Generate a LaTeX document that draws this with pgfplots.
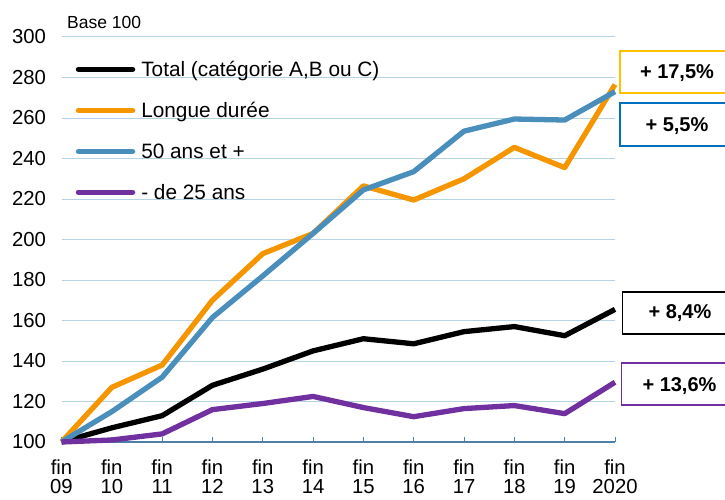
\documentclass[border=0pt]{standalone}
\usepackage{pgfplots}
\pgfplotsset{compat=1.18}
\usepackage{fontspec}
\setmainfont{Liberation Sans}
\definecolor{cOrange}{HTML}{F59600}
\definecolor{cBlue}{HTML}{4A8EBC}
\definecolor{cPurple}{HTML}{7030A0}
\definecolor{cGrid}{HTML}{B4D4E6}
\definecolor{cAxis}{HTML}{4E7FA8}
\definecolor{cYellow}{HTML}{FFC000}
\definecolor{cBoxBlue}{HTML}{0070C0}
\begin{document}
\begin{tikzpicture}[x=1pt,y=1pt]
\useasboundingbox (0pt,0pt) rectangle (725pt,499pt);
\begin{axis}[
  at={(61.5pt,57pt)}, anchor=south west, scale only axis,
  width=553.5pt, height=405pt,
  xmin=0, xmax=11, ymin=100, ymax=300,
  ytick={100,120,...,300},
  xtick={0,...,11},
  xticklabels={{fin\\[-2.5pt]09},{fin\\[-2.5pt]10},{fin\\[-2.5pt]11},{fin\\[-2.5pt]12},{fin\\[-2.5pt]13},{fin\\[-2.5pt]14},{fin\\[-2.5pt]15},{fin\\[-2.5pt]16},{fin\\[-2.5pt]17},{fin\\[-2.5pt]18},{fin\\[-2.5pt]19},{fin\\[-2.5pt]2020}},
  /pgf/number format/assume math mode=true,
  ticklabel style={font=\fontsize{20.3}{22}\selectfont},
  xticklabel style={align=center, yshift=-14pt},
  yticklabel style={xshift=-12pt},
  ymajorgrids, grid style={cGrid, line width=1pt},
  axis x line*=bottom, axis y line*=left,
  y axis line style={draw=none},
  x axis line style={cAxis, line width=1.3pt},
  ytick style={draw=none},
  xtick style={cAxis, line width=1pt},
  tick align=inside, major tick length=5.5pt,
  clip=false,
  every axis plot/.append style={line width=5.3pt, line join=round},
  legend style={draw=none, fill=none, at={(axis description cs:0.02,0.949)}, anchor=north west,
    font=\fontsize{20.8}{24}\selectfont, row sep=22.5pt, cells={anchor=west},
    nodes={inner sep=1pt}, column sep=5pt},
  legend image code/.code={\draw[#1, line width=5.5pt, line cap=round] (0pt,0pt) -- (54pt,0pt);},
]
\addplot[black] coordinates {(0,100) (1,107) (2,113) (3,128) (4,136) (5,145) (6,151) (7,148.5) (8,154.5) (9,157) (10,152.5) (11,165.5)};
\addlegendentry{Total (catégorie A,B ou C)}
\addplot[cOrange] coordinates {(0,100) (1,127) (2,138) (3,170) (4,193) (5,203) (6,226.5) (7,219.5) (8,230) (9,245.5) (10,235.5) (11,276.5)};
\addlegendentry{Longue durée}
\addplot[cBlue] coordinates {(0,100) (1,115) (2,132) (3,161.5) (4,182) (5,203) (6,224.5) (7,233.5) (8,253.5) (9,259.5) (10,259) (11,273)};
\addlegendentry{50 ans et +}
\addplot[cPurple] coordinates {(0,100) (1,101) (2,104) (3,116) (4,119) (5,122.5) (6,117) (7,112.5) (8,116.5) (9,118) (10,114) (11,129.5)};
\addlegendentry{- de 25 ans}
\end{axis}
\node[anchor=west, font=\fontsize{17.5}{20}\selectfont, inner sep=0pt] at (67pt,477pt) {Base 100};
\draw[cYellow, line width=1.5pt] (620pt,406pt) rectangle (728pt,448pt);
\node[font=\bfseries\fontsize{20}{20}\selectfont] at (677pt,426pt) {+ 17,5\%};
\draw[cBoxBlue, line width=1.5pt] (620pt,353pt) rectangle (728pt,396pt);
\node[font=\bfseries\fontsize{20}{20}\selectfont] at (677pt,373pt) {+ 5,5\%};
\draw[black, line width=1.5pt] (622.7pt,165pt) rectangle (728pt,207pt);
\node[font=\bfseries\fontsize{20}{20}\selectfont] at (680pt,186pt) {+ 8,4\%};
\draw[cPurple, line width=1.5pt] (621.7pt,94pt) rectangle (728pt,136pt);
\node[font=\bfseries\fontsize{20}{20}\selectfont] at (679.5pt,113pt) {+ 13,6\%};
\end{tikzpicture}
\end{document}
